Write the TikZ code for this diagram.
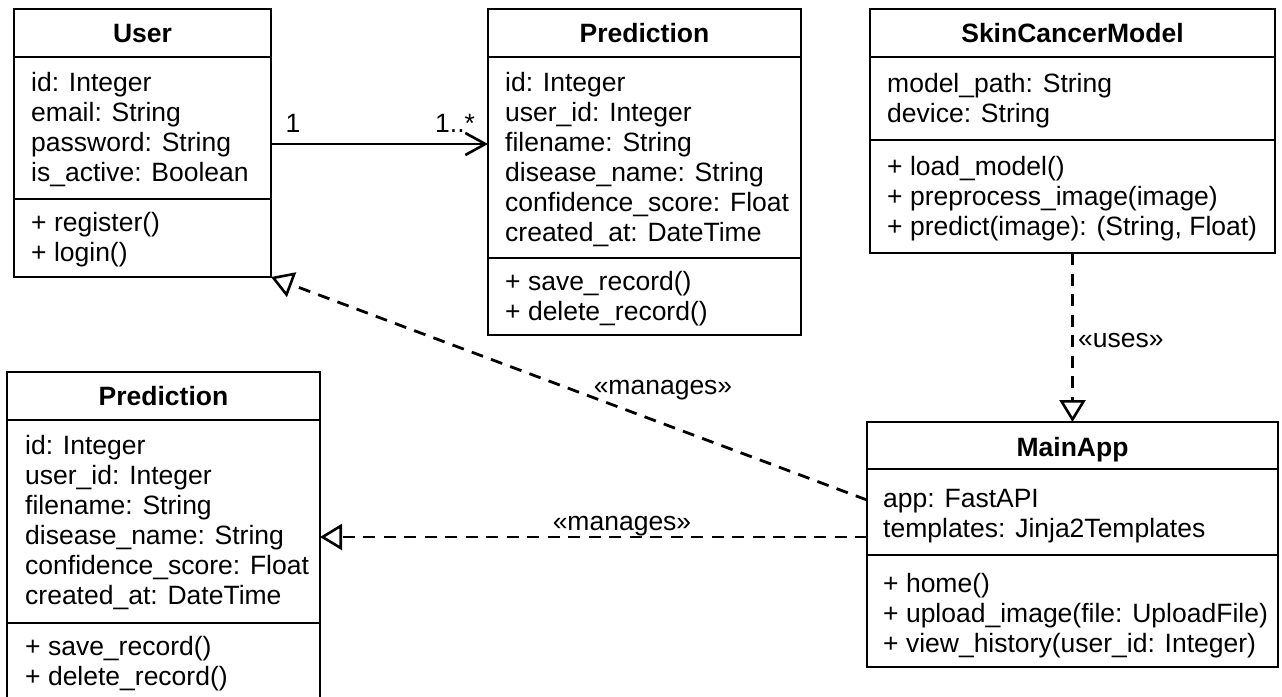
\documentclass[tikz,border=0pt]{standalone}
\usepackage{fontspec}
\setmainfont{Liberation Sans}
\usetikzlibrary{arrows.meta}
\tikzset{
  boxline/.style={line width=2.8pt},
  classbox/.style={draw, line width=2.8pt, fill=white, inner sep=0pt, outer sep=0pt, anchor=north west},
  ctitle/.style={font=\bfseries\fontsize{26.5}{30}\selectfont, anchor=base, inner sep=0pt},
  member/.style={font=\fontsize{26.5}{30}\selectfont, anchor=base west, inner sep=0pt},
  lbl/.style={font=\fontsize{26.5}{30}\selectfont, inner sep=0pt},
  dep/.style={line width=2.8pt, dash pattern=on 12pt off 8.5pt, -{Triangle[open,length=22pt,width=26pt,line width=2.6pt]}},
  assoc/.style={line width=2.8pt, -{Straight Barb[length=20pt,width=22pt,line width=2.6pt]}},
}
\begin{document}
\begin{tikzpicture}[x=1pt,y=-1pt]
\useasboundingbox (0,0) rectangle (1282,696);
\clip (0,0) rectangle (1282,696);
\fill[white] (0,0) rectangle (1282,696);

% ---------- User ----------
\node[classbox, minimum width=257pt, minimum height=268pt] (user) at (14,9) {};
\draw[boxline] (user.west |- 0,57) -- (user.east |- 0,57);
\draw[boxline] (user.west |- 0,199) -- (user.east |- 0,199);
\node[ctitle] (user-t) at (142.5,42.5) {User};
\foreach \t [count=\i] in {id: Integer, email: String, password: String, is\_active: Boolean}
  \node[member] (user-a\i) at (31,61+30*\i) {\t};
\foreach \t [count=\i] in {+ register(), + login()}
  \node[member] (user-m\i) at (31,201+30*\i) {\t};

% ---------- Prediction (top) ----------
\node[classbox, minimum width=313pt, minimum height=326pt] (pred1) at (488,9) {};
\draw[boxline] (pred1.west |- 0,57) -- (pred1.east |- 0,57);
\draw[boxline] (pred1.west |- 0,258) -- (pred1.east |- 0,258);
\node[ctitle] (pred1-t) at (644.5,42.5) {Prediction};
\foreach \t [count=\i] in {id: Integer, user\_id: Integer, filename: String, disease\_name: String, confidence\_score: Float, created\_at: DateTime}
  \node[member] (pred1-a\i) at (505,61+30*\i) {\t};
\foreach \t [count=\i] in {+ save\_record(), + delete\_record()}
  \node[member] (pred1-m\i) at (505,260+30*\i) {\t};

% ---------- SkinCancerModel ----------
\node[classbox, minimum width=405pt, minimum height=244pt] (scm) at (870,9) {};
\draw[boxline] (scm.west |- 0,57) -- (scm.east |- 0,57);
\draw[boxline] (scm.west |- 0,140) -- (scm.east |- 0,140);
\node[ctitle] (scm-t) at (1072.5,42.5) {SkinCancerModel};
\foreach \t [count=\i] in {model\_path: String, device: String}
  \node[member] (scm-a\i) at (887,62+30*\i) {\t};
\foreach \t [count=\i] in {+ load\_model(), + preprocess\_image(image), {+ predict(image): (String, Float)}}
  \node[member] (scm-m\i) at (887,145+30*\i) {\t};

% ---------- Prediction (bottom) ----------
\node[classbox, minimum width=313pt, minimum height=340pt] (pred2) at (7,372) {};
\draw[boxline] (pred2.west |- 0,420) -- (pred2.east |- 0,420);
\draw[boxline] (pred2.west |- 0,623) -- (pred2.east |- 0,623);
\node[ctitle] (pred2-t) at (163.5,405.5) {Prediction};
\foreach \t [count=\i] in {id: Integer, user\_id: Integer, filename: String, disease\_name: String, confidence\_score: Float, created\_at: DateTime}
  \node[member] (pred2-a\i) at (25,424+30*\i) {\t};
\foreach \t [count=\i] in {+ save\_record(), + delete\_record()}
  \node[member] (pred2-m\i) at (25,625.5+30*\i) {\t};

% ---------- MainApp ----------
\node[classbox, minimum width=411pt, minimum height=245pt] (main) at (867,422) {};
\draw[boxline] (main.west |- 0,469) -- (main.east |- 0,469);
\draw[boxline] (main.west |- 0,555) -- (main.east |- 0,555);
\node[ctitle] (main-t) at (1072.5,456) {MainApp};
\foreach \t [count=\i] in {app: FastAPI, templates: Jinja2Templates}
  \node[member] (main-a\i) at (883,477+30*\i) {\t};
\foreach \t [count=\i] in {+ home(), + upload\_image(file: UploadFile), + view\_history(user\_id: Integer)}
  \node[member] (main-m\i) at (883,562+30*\i) {\t};

% ---------- Connectors ----------
\coordinate (ya) at (0,144);
\coordinate (yb) at (0,500);
\coordinate (yc) at (0,537);
\draw[assoc] (user.east |- ya) -- (pred1.west |- ya);
\draw[dep] (main.west |- yb) -- (user.south east);
\draw[dep] (main.west |- yc) -- (pred2.east |- yc);
\draw[dep] (scm.south) -- (main.north);

% ---------- Labels ----------
\node[lbl, anchor=base] (l-one) at (293,132) {1};
\node[lbl, anchor=base west] (l-many) at (435,132) {1..*};
\node[lbl, anchor=base] (l-man1) at (663,394) {«manages»};
\node[lbl, anchor=base] (l-man2) at (622,530) {«manages»};
\node[lbl, anchor=base west] (l-uses) at (1078,347) {«uses»};
\end{tikzpicture}
\end{document}
